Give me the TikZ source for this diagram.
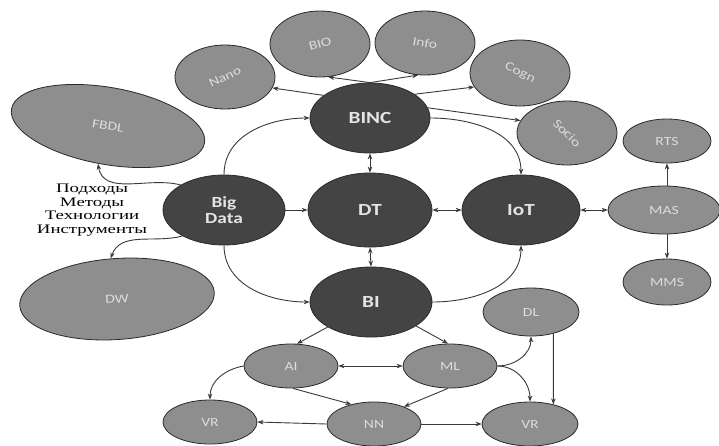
\documentclass[tikz,border=0pt]{standalone}
\usepackage{fontspec}
\setmainfont{Carlito}[FakeStretch=1.25]
\newfontfamily\rusfont{Liberation Serif}[FakeStretch=1.45]
\usetikzlibrary{shapes.geometric,arrows.meta}
\definecolor{darkfill}{HTML}{444444}
\definecolor{greyfill}{HTML}{8E8E8E}
\definecolor{rim}{HTML}{2A2A2A}
\definecolor{wire}{HTML}{3A3A3A}
\definecolor{darktext}{HTML}{E4E4E4}
\definecolor{greytext}{HTML}{DCDCDC}
\tikzset{
  hub/.style={ellipse, draw=rim, line width=0.8pt, fill=darkfill, text=darktext,
    inner sep=0pt, font=\bfseries\fontsize{17}{17}\selectfont, align=center},
  leaf/.style={ellipse, draw=rim, line width=0.8pt, fill=greyfill, text=greytext,
    inner sep=0pt, font=\fontsize{12.5}{13}\selectfont},
  edge/.style={draw=wire, line width=0.9pt, -{Stealth[length=6pt,width=4.5pt]}},
  dedge/.style={draw=wire, line width=0.9pt, {Stealth[length=6pt,width=4.5pt]}-{Stealth[length=6pt,width=4.5pt]}}
}
\begin{document}
\begin{tikzpicture}[x=1pt,y=1pt]
\useasboundingbox[fill=white] (0,0) rectangle (719,-445);

% central hubs
\node[hub, minimum width=120pt, minimum height=70pt] (binc) at (370,-118) {BINC};
\node[hub, minimum width=124pt, minimum height=74pt] (dt)   at (370,-210) {DT};
\node[hub, minimum width=122pt, minimum height=70pt, font=\bfseries\fontsize{15.5}{16}\selectfont] (bd) at (224,-210) {Big\\Data};
\node[hub, minimum width=118pt, minimum height=70pt] (iot)  at (521,-210) {IoT};
\node[hub, minimum width=122pt, minimum height=70pt] (bi)   at (371,-302) {BI};

% converging technologies around BINC
\node[leaf, minimum width=100pt, minimum height=64pt] (nano)  at (225,-77)  {\rotatebox{25}{Nano}};
\node[leaf, minimum width=100pt, minimum height=66pt] (bio)   at (320,-44)  {\rotatebox{15}{BIO}};
\node[leaf, minimum width=100pt, minimum height=64pt] (info)  at (425,-43)  {\rotatebox{-10}{Info}};
\node[leaf, minimum width=100pt, minimum height=66pt] (cogn)  at (520,-73)  {\rotatebox{-25}{Cogn}};
\node[leaf, minimum width=100pt, minimum height=64pt] (socio) at (567,-133) {\rotatebox{-45}{Socio}};

% big data storage
\node[leaf, minimum width=196pt, minimum height=77pt, rotate=-10] (fbdl) at (108,-126) {FBDL};
\node[leaf, minimum width=195pt, minimum height=81pt, rotate=4]   (dw)   at (117,-299) {DW};

\node[font=\rusfont\fontsize{13}{13.5}\selectfont, align=center, inner sep=0pt] (approach) at (92,-210)
  {Подходы\\Методы\\Технологии\\Инструменты};

% multi-agent systems
\node[leaf, minimum width=88pt,  minimum height=44pt] (rts) at (667,-141) {RTS};
\node[leaf, minimum width=112pt, minimum height=48pt] (mas) at (664,-210) {MAS};
\node[leaf, minimum width=88pt,  minimum height=46pt] (mms) at (667,-282) {MMS};

% intelligence branch
\node[leaf, minimum width=96pt, minimum height=48pt] (dl)  at (531,-312) {DL};
\node[leaf, minimum width=94pt, minimum height=44pt] (ai)  at (291,-366) {AI};
\node[leaf, minimum width=94pt, minimum height=44pt] (ml)  at (450,-366) {ML};
\node[leaf, minimum width=94pt, minimum height=44pt] (vrl) at (210,-422) {VR};
\node[leaf, minimum width=94pt, minimum height=44pt] (nn)  at (374,-424) {NN};
\node[leaf, minimum width=96pt, minimum height=44pt] (vrr) at (530,-424) {VR};

% BINC fan-out
\draw[edge] (binc.154) -- (nano.-13);
\draw[edge] (binc.north) -- (bio.-76);
\draw[edge] (binc.north) -- (info.-102);
\draw[edge] (binc.28) -- (cogn.197);
\draw[edge] (binc.10) -- (socio.165);

% hub links
\draw[edge] (bd.north) to[out=90,in=180] (binc.west);
\draw[edge] (bd.south) to[out=-90,in=180] (bi.west);
\draw[edge] (bd.east) -- (dt.west);
\draw[edge] (binc.east) to[out=0,in=90] (iot.north);
\draw[edge] (bi.east) to[out=0,in=-90] (iot.south);
\draw[dedge] (binc.south) -- (dt.north);
\draw[dedge] (dt.south) -- (bi.north);
\draw[dedge] (dt.east) -- (iot.west);
\draw[dedge] (iot.east) -- (mas.west);
\draw[edge] (mas.north -| rts.south) -- (rts.south);
\draw[edge] (mas.south -| mms.north) -- (mms.north);

% storage
\draw[edge] (bd.150) to[out=165,in=-80] (fbdl.-95);
\draw[edge] (bd.212) to[out=195,in=70] (dw.95);

% intelligence links
\draw[edge] (bi.210) -- (ai.75);
\draw[edge] (bi.-28) -- (ml.95);
\draw[dedge] (ai.east) -- (ml.west);
\draw[edge] (ai.west) to[out=190,in=90] (vrl.north);
\draw[edge] (ai.-85) -- (nn.139);
\draw[edge] (ml.-95) -- (nn.30);
\draw[edge] (nn.west) -- (vrl.east);
\draw[edge] (nn.east) -- (vrr.west);
\draw[edge] (ml.east) to[out=0,in=90] (vrr.north);
\draw[edge] (ml.east) to[out=0,in=-90] (dl.south);
\draw[edge] (dl.-44) -- (vrr.40);
\end{tikzpicture}
\end{document}
